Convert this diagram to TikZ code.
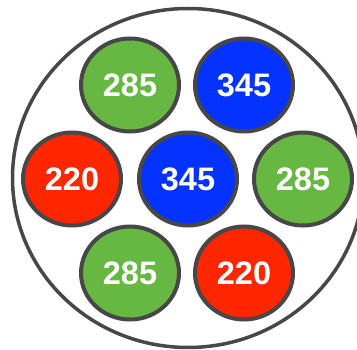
\documentclass[tikz,border=0pt]{standalone}
\usepackage{fontspec}
\setmainfont{Liberation Sans}
\usetikzlibrary{shapes.geometric}
\definecolor{rodgreen}{HTML}{66B843}
\definecolor{rodblue}{HTML}{0433FF}
\definecolor{rodred}{HTML}{FF2600}
\definecolor{rim}{HTML}{474747}
\tikzset{
  rod/.style={ellipse,draw=rim,line width=4pt,minimum width=98pt,minimum height=93pt,inner sep=0pt,
    text=white,font=\bfseries\fontsize{32.5}{32.5}\selectfont},
  g/.style={fill=rodgreen},
  b/.style={fill=rodblue},
  r/.style={fill=rodred}
}

\begin{document}
\begin{tikzpicture}[x=1pt,y=-1pt]
\useasboundingbox (0,0) rectangle (357,350);
\node[ellipse,draw=rim,line width=3.5pt,minimum width=351pt,minimum height=339pt,inner sep=0pt] (housing) at (188,178) {};
\node[rod,g] (c1) at (130,85) {285};
\node[rod,b] (c2) at (244,85) {345};
\node[rod,r] (c3) at (72,179) {220};
\node[rod,b] (c4) at (188,179) {345};
\node[rod,g] (c5) at (303,179) {285};
\node[rod,g] (c6) at (130,273) {285};
\node[rod,r] (c7) at (244,273) {220};
\end{tikzpicture}
\end{document}
